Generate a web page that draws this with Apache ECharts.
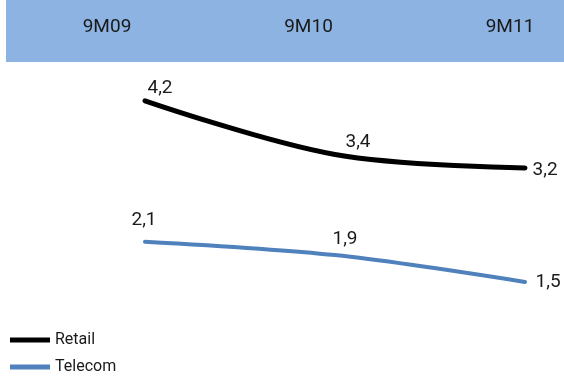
<!DOCTYPE html>
<html><head><meta charset="utf-8">
<script src="https://cdn.jsdelivr.net/npm/echarts@6/dist/echarts.min.js"></script>
<style>html,body{margin:0;padding:0;background:#fff}#c{width:564px;height:376px}</style>
</head><body><div id="c"></div>
<script>
var categories = ['9M09', '9M10', '9M11'];
var retail = [4.2, 3.4, 3.2];
var telecom = [2.1, 1.9, 1.5];
var seriesNames = ['Retail', 'Telecom'];

var retailLabelCfg = [
  {position: 'top', offset: [15, 2]},
  {position: 'top', offset: [23, 3]},
  {position: 'right', offset: [2, 2]}
];
var telecomLabelCfg = [
  {position: 'top', offset: [-1, -6]},
  {position: 'top', offset: [10, -1]},
  {position: 'right', offset: [5, 0]}
];
function build(vals, cfg) {
  return vals.map(function (v, i) { return {value: v, label: cfg[i]}; });
}
var labelStyle = {show: true, fontFamily: 'Roboto', fontSize: 19, color: '#1a1a1a',
  formatter: function (p) { return String(p.value).replace('.', ','); }};
var legendBase = {orient: 'vertical', left: 10, padding: 0, itemWidth: 40, itemHeight: 5, icon: 'rect',
  textStyle: {fontFamily: 'Roboto', fontSize: 16, lineHeight: 19, color: '#1a1a1a'}};

var chart = echarts.init(document.getElementById('c'));
chart.setOption({
  animation: false,
  graphic: [{type: 'rect', z: -10, shape: {x: 6, y: 0, width: 558, height: 62}, style: {fill: '#8DB3E2'}}],
  grid: [
    {left: 145, right: 39, top: 47.1, bottom: 60.5},
    {left: 107, right: 54, top: 27, height: 10}
  ],
  xAxis: [
    {type: 'category', data: categories, boundaryGap: false, gridIndex: 0, show: false},
    {type: 'category', data: categories, boundaryGap: false, gridIndex: 1, position: 'top',
     axisLine: {show: false}, axisTick: {show: false},
     axisLabel: {margin: 0, verticalAlign: 'middle', fontFamily: 'Roboto', fontSize: 19, color: '#1a1a1a'}}
  ],
  yAxis: [
    {type: 'value', min: 1, max: 5, gridIndex: 0, show: false},
    {type: 'value', gridIndex: 1, show: false}
  ],
  legend: [
    Object.assign({}, legendBase, {top: 330.5, data: [seriesNames[0]]}),
    Object.assign({}, legendBase, {top: 357.5, data: [seriesNames[1]]})
  ],
  series: [
    {name: seriesNames[0], type: 'line', data: build(retail, retailLabelCfg), smooth: 0.35,
     symbol: 'circle', symbolSize: 1, color: '#000000',
     lineStyle: {width: 5, color: '#000000', cap: 'round'}, label: labelStyle},
    {name: seriesNames[1], type: 'line', data: build(telecom, telecomLabelCfg), smooth: 0.3,
     symbol: 'circle', symbolSize: 1, color: '#4F81BD',
     lineStyle: {width: 4, color: '#4F81BD', cap: 'round'}, label: labelStyle}
  ]
});
</script></body></html>
